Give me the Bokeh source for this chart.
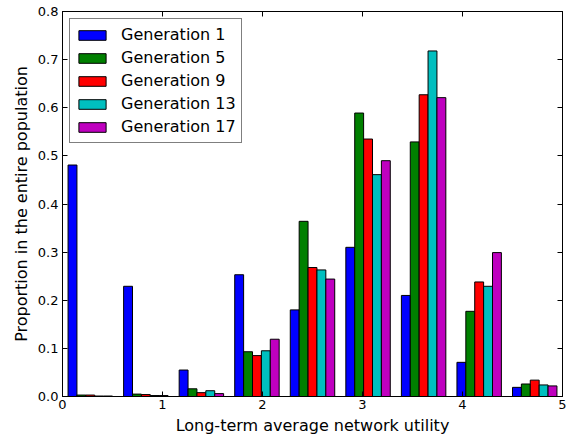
import numpy as np
from bokeh.plotting import figure
from bokeh.models import LinearAxis, FixedTicker, PrintfTickFormatter, Range1d, Legend, LegendItem
from bokeh.embed import file_html
from bokeh.resources import INLINE

# Histogram data: utility range 0..5 split into 9 bins
utility_min = 0.0
utility_max = 5.0
n_bins = 9

series_names = ["Generation 1", "Generation 5", "Generation 9", "Generation 13", "Generation 17"]
gen1 = [0.481, 0.229, 0.055, 0.253, 0.180, 0.310, 0.210, 0.071, 0.019]
gen5 = [0.003, 0.005, 0.016, 0.093, 0.364, 0.589, 0.529, 0.177, 0.026]
gen9 = [0.003, 0.004, 0.008, 0.085, 0.268, 0.535, 0.627, 0.238, 0.034]
gen13 = [0.001, 0.002, 0.012, 0.095, 0.263, 0.461, 0.718, 0.229, 0.024]
gen17 = [0.001, 0.002, 0.006, 0.119, 0.244, 0.490, 0.621, 0.299, 0.022]
series_values = [gen1, gen5, gen9, gen13, gen17]
colors = ["#0000ff", "#008000", "#ff0000", "#00bfbf", "#bf00bf"]

x_ticks = [0, 1, 2, 3, 4, 5]
y_ticks = [0.0, 0.1, 0.2, 0.3, 0.4, 0.5, 0.6, 0.7, 0.8]

FONT = "DejaVu Sans"

p = figure(width=570, height=438, output_backend="svg", toolbar_location=None,
           x_range=Range1d(0, 5), y_range=Range1d(0, 0.8),
           min_border_left=62, min_border_right=8, min_border_top=11, min_border_bottom=42)
p.background_fill_color = "white"
p.border_fill_color = "white"
p.outline_line_color = "black"
p.outline_line_width = 1
p.grid.visible = False

edges = np.linspace(utility_min, utility_max, n_bins + 1)
bw = edges[1] - edges[0]
n = len(series_values)
w = 0.8 * bw / n
items = []
for i, (name, vals, col) in enumerate(zip(series_names, series_values, colors)):
    xs = edges[:-1] + 0.1 * bw + (i + 0.5) * w
    r = p.vbar(x=xs, top=vals, bottom=0, width=w, fill_color=col, line_color="black", line_width=1)
    items.append(LegendItem(label=name, renderers=[r]))

def style_axis(ax, show_labels=True):
    ax.axis_line_color = "black"
    ax.major_tick_line_color = "black"
    ax.major_tick_in = 5
    ax.major_tick_out = 0
    ax.minor_tick_line_color = None
    ax.major_label_text_font = FONT
    if show_labels:
        ax.major_label_text_color = "black"
        ax.major_label_text_font_size = "13px"
    else:
        ax.major_label_text_color = None
        ax.major_label_text_font_size = "1px"
        ax.major_label_standoff = 0

xa = p.xaxis[0]
ya = p.yaxis[0]
xa.ticker = FixedTicker(ticks=x_ticks)
ya.ticker = FixedTicker(ticks=y_ticks)
ya.formatter = PrintfTickFormatter(format="%.1f")
style_axis(xa)
style_axis(ya)
xa.major_label_standoff = 3
ya.major_label_standoff = 4
xa.axis_label = "Long-term average network utility"
ya.axis_label = "Proportion in the entire population"
for ax in (xa, ya):
    ax.axis_label_text_font = FONT
    ax.axis_label_text_font_size = "16px"
    ax.axis_label_text_font_style = "normal"
    ax.axis_label_text_color = "black"
xa.axis_label_standoff = 4
ya.axis_label_standoff = 4

top_ax = LinearAxis(ticker=FixedTicker(ticks=x_ticks))
right_ax = LinearAxis(ticker=FixedTicker(ticks=y_ticks))
style_axis(top_ax, False)
style_axis(right_ax, False)
p.add_layout(top_ax, "above")
p.add_layout(right_ax, "right")

legend = Legend(items=items, location="top_left")
legend.label_text_font = FONT
legend.label_text_font_size = "16px"
legend.label_text_color = "black"
legend.glyph_width = 34
legend.glyph_height = 12
legend.label_height = 21
legend.spacing = 2
legend.padding = 5
legend.margin = 7
legend.label_standoff = 12
legend.border_line_color = "black"
legend.border_line_width = 1
legend.background_fill_alpha = 1
p.add_layout(legend)

open("out.html", "w").write(file_html(p, INLINE))
